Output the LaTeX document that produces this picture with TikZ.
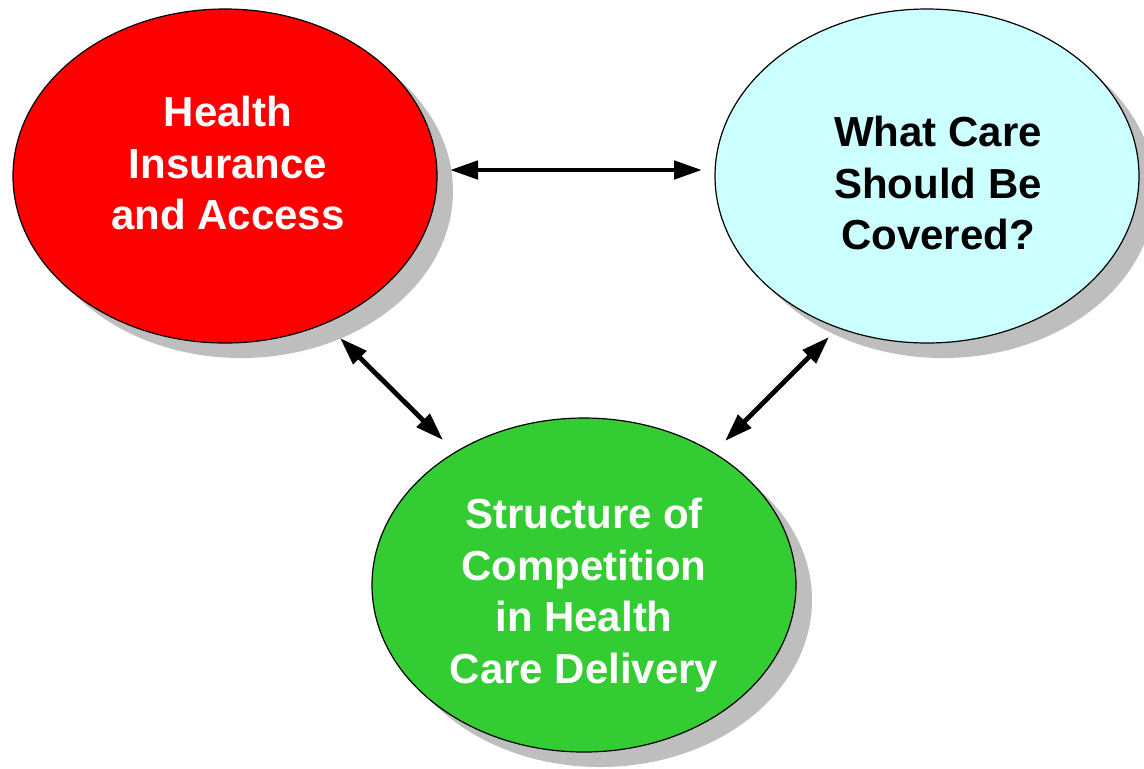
\documentclass[tikz,border=0pt]{standalone}
\usepackage{fontspec}
\setmainfont{Liberation Sans}
\usetikzlibrary{arrows.meta,shapes.geometric}
\definecolor{shadowgray}{RGB}{190,190,190}
\definecolor{redfill}{RGB}{255,0,0}
\definecolor{cyanfill}{RGB}{204,255,255}
\definecolor{greenfill}{RGB}{51,204,51}
\begin{document}
\begin{tikzpicture}[x=0.5pt,y=-0.5pt,
  bubble/.style={ellipse, draw=black, line width=0.6pt, minimum width=212pt, minimum height=167pt, inner sep=0pt},
  shadowell/.style={ellipse, fill=shadowgray, minimum width=212pt, minimum height=167pt, inner sep=0pt},
  lbl/.style={font=\fontsize{21}{25.8}\selectfont\bfseries, align=center},
  link/.style={line width=2.4pt, {Triangle[length=14pt,width=9pt]}-{Triangle[length=14pt,width=9pt]}}]
\useasboundingbox (0,0) rectangle (1144,768);
% shadows
\node[shadowell] (redsh) at (241,191) {};
\node[shadowell] (cyansh) at (943,191) {};
\node[shadowell] (greensh) at (600,600) {};
% ellipses
\node[bubble, fill=redfill] (red) at (225,176) {};
\node[bubble, fill=cyanfill] (cyan) at (927,176) {};
\node[bubble, fill=greenfill] (green) at (584,585) {};
% texts
\node[lbl, text=white] (redtxt) at (228,163) {Health\\Insurance\\and Access};
\node[lbl, text=black] (cyantxt) at (938,183) {What Care\\Should Be\\Covered?};
\node[lbl, text=white] (greentxt) at (584,595) {Structure of\\Competition\\in Health\\Care Delivery};
% arrow ends
\coordinate (h1) at (450,170);
\coordinate (h2) at (702,170);
\coordinate (l1) at (340,338);
\coordinate (l2) at (443,440);
\coordinate (r1) at (829,337);
\coordinate (r2) at (725,441);
\draw[link] (h1) -- (h2);
\draw[link] (l1) -- (l2);
\draw[link] (r1) -- (r2);
\end{tikzpicture}
\end{document}
